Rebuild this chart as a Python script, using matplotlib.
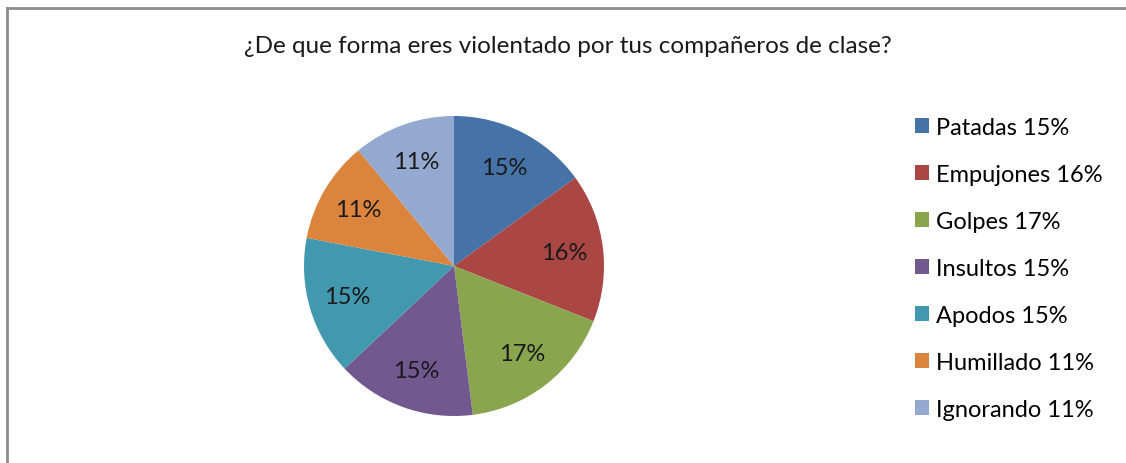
import matplotlib.pyplot as plt
from matplotlib.patches import Patch
from matplotlib.lines import Line2D

plt.rcParams['font.family'] = ['Lato', 'DejaVu Sans']

# data
categories = ["Patadas", "Empujones", "Golpes", "Insultos", "Apodos",
              "Humillado", "Ignorando"]
values = [15, 16, 17, 15, 15, 11, 11]
colors = ["#4572A7", "#AA4643", "#89A54E", "#71588F", "#4198AF",
          "#DB843D", "#93A9CF"]
title = "¿De que forma eres violentado por tus compañeros de clase?"

W, H = 1126, 464
fig = plt.figure(figsize=(W / 100, H / 100), dpi=100)

# frame lines (top and left only visible)
fig.add_artist(Line2D([7 / W, 7 / W], [0, 1 - 9 / H], color="#8c8c8c", lw=2))
fig.add_artist(Line2D([7 / W, 1], [1 - 9 / H, 1 - 9 / H], color="#8c8c8c", lw=2))

cx, cy, r = 454, 267, 150
ax = fig.add_axes([(cx - r) / W, (H - cy - r) / H, 2 * r / W, 2 * r / H])
ax.pie(values, colors=colors, startangle=90, counterclock=False,
       autopct="%d%%", pctdistance=0.74,
       textprops={"fontsize": 17, "color": "#1a1a1a"},
       wedgeprops={"linewidth": 0})
ax.set_xlim(-1, 1)
ax.set_ylim(-1, 1)
ax.set_aspect("equal")
ax.axis("off")

fig.text(568 / W, 1 - 47 / H, title, ha="center", va="center",
         fontsize=17.5, color="#1a1a1a")

handles = [Patch(facecolor=c, edgecolor="none") for c in colors]
labels = ["{} {}%".format(n, v) for n, v in zip(categories, values)]
fig.legend(handles, labels, loc="upper left",
           bbox_to_anchor=(894 / W, 1 - 97 / H), frameon=False,
           fontsize=17, labelspacing=1.1, handlelength=0.6,
           handleheight=0.6, handletextpad=0.3)

fig.savefig("out.png", dpi=100)
